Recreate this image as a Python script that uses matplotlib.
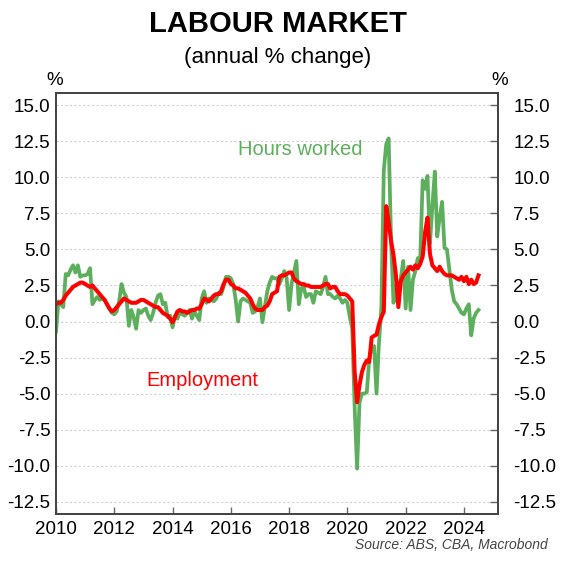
import numpy as np
import matplotlib.pyplot as plt

plt.rcParams['font.family'] = ['Liberation Sans', 'DejaVu Sans']

# monthly, Jan 2010 - Jul 2024, annual % change
employment = [
    1.2, 1.3, 1.3, 1.5, 1.8, 2.0, 2.2, 2.4, 2.5, 2.6, 2.7, 2.7,
    2.6, 2.5, 2.4, 2.5, 2.3, 2.1, 1.9, 1.7, 1.5, 1.2, 0.9, 0.7,
    0.8, 1.0, 1.2, 1.4, 1.6, 1.5, 1.4, 1.3, 1.3, 1.3, 1.4, 1.5,
    1.5, 1.4, 1.3, 1.2, 1.1, 1.0, 1.0, 0.8, 0.6, 0.5, 0.4, 0.2,
    -0.05, 0.3, 0.7, 0.8, 0.7, 0.7, 0.6, 0.7, 0.8, 0.8, 0.9, 0.9,
    1.2, 1.6, 1.5, 1.4, 1.6, 1.8, 1.9, 1.9, 2.1, 2.6, 2.9, 2.9,
    2.6, 2.5, 2.3, 2.3, 2.2, 2.1, 2.0, 1.8, 1.6, 1.2, 0.9, 0.8,
    0.8, 0.8, 1.0, 1.1, 1.4, 1.9, 2.0, 2.1, 3.1, 3.2, 3.2, 3.3,
    3.4, 3.4, 3.0, 2.8, 2.7, 2.6, 2.6, 2.5, 2.5, 2.4, 2.4, 2.4,
    2.4, 2.4, 2.5, 2.6, 2.6, 2.3, 2.4, 2.4, 2.1, 1.9, 1.9, 1.9,
    1.8, 1.6, 1.4, -3.5, -5.6, -4.4, -3.5, -3.0, -2.7, -2.8, -1.1, -1.0,
    -0.9, -0.2, 0.3, 0.7, 8.0, 6.9, 5.6, 4.6, 3.2, 1.0, 2.8, 3.2,
    3.4, 3.6, 3.8, 3.6, 3.9, 3.7, 4.0, 4.5, 6.2, 7.2, 4.7, 3.9,
    3.7, 3.5, 3.8, 3.5, 3.3, 3.2, 3.2, 3.2, 3.1, 3.0, 2.9, 3.1,
    2.8, 3.1, 2.6, 2.9, 2.6, 2.7, 3.2,
]

hours_worked = [
    -0.7, 1.4, 1.2, 1.0, 3.3, 3.2, 3.6, 3.9, 3.4, 3.9, 3.1, 3.2,
    3.2, 3.3, 3.7, 1.2, 1.5, 1.7, 1.5, 1.6, 1.5, 1.2, 0.9, 0.6,
    0.5, 0.7, 1.4, 2.6, 2.0, 1.7, -0.3, 0.8, 0.3, -0.5, 0.8, 0.6,
    0.8, 0.9, 0.4, 0.1, 0.6, 1.3, 1.8, 1.9, 1.2, 1.3, 0.3, 0.4,
    -0.4, 0.4, 0.2, 0.6, 0.5, 0.4, 0.6, 0.8, 0.2, 0.7, 0.4, 0.1,
    1.6, 2.1, 1.3, 1.6, 1.5, 1.4, 1.6, 2.0, 1.9, 2.4, 3.1, 3.1,
    3.0, 2.6, 1.5, 0.0, 1.4, 1.6, 1.5, 1.4, 1.3, 0.6, 0.7, 1.0,
    1.6, -0.05, 1.0, 2.1, 2.7, 3.1, 3.0, 3.0, 2.6, 3.0, 3.5, 3.0,
    0.8, 2.6, 3.4, 4.2, 1.2, 2.3, 2.4, 1.7, 1.9, 1.9, 1.3, 2.1,
    2.0, 1.9, 2.4, 3.1, 1.9, 1.9, 1.7, 1.6, 1.8, 1.6, 1.3, 1.5,
    1.3, 0.3, -0.5, -6.0, -10.2, -5.6, -5.0, -5.0, -4.9, -2.6, -1.8, -1.7,
    -5.0, -1.5, 1.0, 10.5, 12.3, 12.7, 5.5, 1.3, 2.5, 2.0, 3.0, 4.2,
    0.9, 3.8, 0.8, 2.9, 3.5, 4.4, 4.3, 9.8, 9.2, 10.1, 5.4, 8.0,
    10.4, 5.9, 7.2, 8.3, 5.1, 5.0, 3.6, 2.2, 1.4, 1.2, 0.9, 0.6,
    0.5, 0.9, 1.2, -0.96, 0.2, 0.6, 0.8,
]

t = 2010 + np.arange(len(employment)) / 12
yticks = np.arange(-12.5, 15.1, 2.5)
xticks = np.arange(2010, 2025, 2)

fig = plt.figure(figsize=(5.68, 5.68), dpi=100)
ax = fig.add_axes([0.0986, 0.0950, 0.7782, 0.7413])

ax.plot(t, hours_worked, color='#5DAF5D', lw=2.7, solid_joinstyle='round', zorder=3)
ax.plot(t, employment, color='#FF0000', lw=2.9, solid_joinstyle='round', zorder=4)

ax.set_xlim(2010, 2025.17)
ax.set_ylim(-13.35, 15.85)
ax.set_yticks(yticks)
ax.set_yticklabels([f'{v:.1f}' for v in yticks])
ax.set_xticks(xticks)
ax.set_xticklabels([str(x) for x in xticks])
ax.grid(axis='y', color='#cfcfcf', ls=(0, (2, 2)), lw=0.8)
ax.grid(axis='x', visible=False)

ax2 = ax.twinx()
ax2.set_ylim(ax.get_ylim())
ax2.set_yticks(yticks)
ax2.set_yticklabels([f'{v:.1f}' for v in yticks])

for a in (ax, ax2):
    for s in a.spines.values():
        s.set_color('#444444')
        s.set_linewidth(1.3)

ax.tick_params(axis='y', length=0, pad=4, labelsize=13.5, colors='black')
ax.tick_params(axis='x', direction='in', length=5, width=1, color='#666666', pad=5, labelsize=13.5)
ax2.tick_params(axis='y', direction='in', length=6, width=1, color='#666666', pad=11, labelsize=13.5)

ax.text(2016.25, 11.9, 'Hours worked', color='#5DAF5D', fontsize=14.5, va='center', ha='left')
ax.text(2013.1, -4.1, 'Employment', color='#FF0000', fontsize=14.5, va='center', ha='left')

fig.text(0.489, 0.958, 'LABOUR MARKET', fontsize=21, fontweight='bold', ha='center', va='center')
fig.text(0.489, 0.898, '(annual % change)', fontsize=16, ha='center', va='center')
fig.text(0.097, 0.859, '%', fontsize=13.5, ha='center', va='center')
fig.text(0.880, 0.859, '%', fontsize=13.5, ha='center', va='center')
fig.text(0.965, 0.040, 'Source: ABS, CBA, Macrobond', fontsize=10, style='italic',
         color='#444444', ha='right', va='center')

fig.savefig('out.png', dpi=100)
